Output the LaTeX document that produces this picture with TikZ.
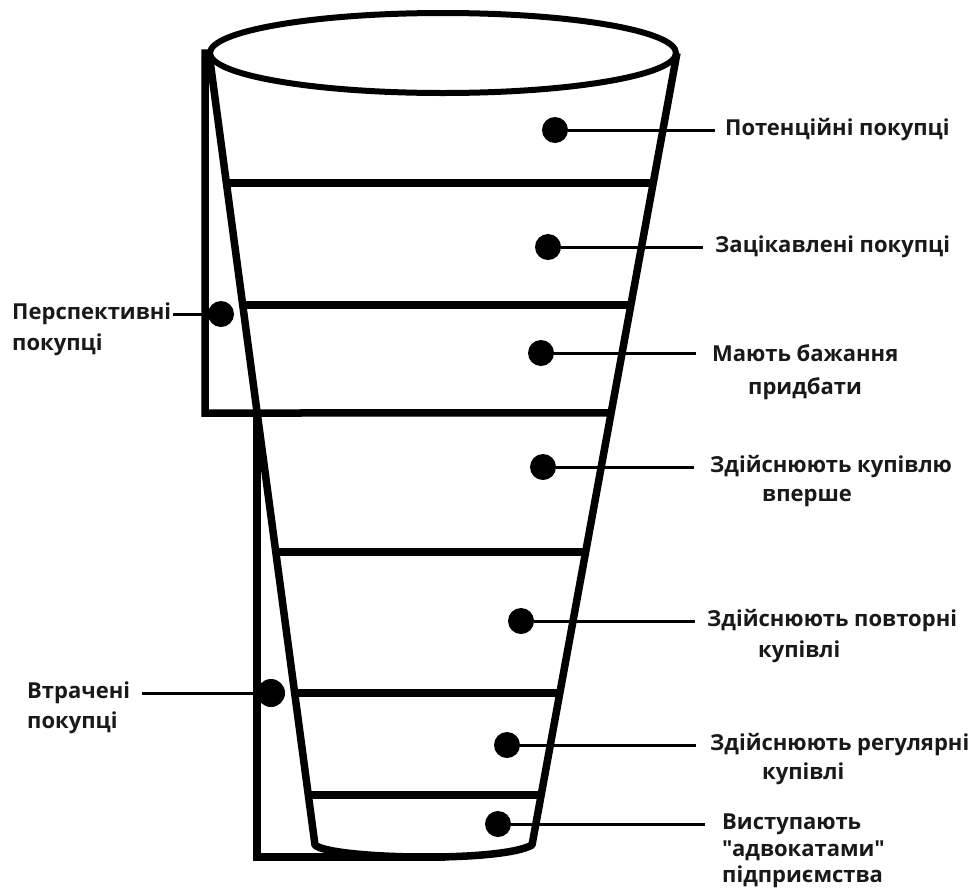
\documentclass[tikz,border=0pt]{standalone}
\usepackage{fontspec}
\setmainfont{Open Sans}[Ligatures=TeXOff]
\usetikzlibrary{calc}
\begin{document}
\begin{tikzpicture}[x=1pt,y=-1pt,
  outline/.style={line width=7.5pt},
  link/.style={line width=3pt},
  dot/.style={circle,fill=black,minimum size=26pt,inner sep=0pt},
  lab/.style={anchor=west,inner sep=0pt,font=\fontsize{22}{26}\selectfont\bfseries,text=black!90}]
\useasboundingbox (0,0) rectangle (974,892);
% funnel corners
\coordinate (TL) at (209,53);
\coordinate (BL) at (315,845);
\coordinate (TR) at (677,53);
\coordinate (BR) at (532,845);
% top ellipse
\draw[line width=6pt] (443,53) ellipse [x radius=233, y radius=40];
% funnel body
\draw[outline,line join=round] (TL) -- (BL) .. controls (330,859) and (500,863) .. (BR) -- (TR);
% dividers
\foreach \t in {0.1641,0.3182,0.6301,0.8081,0.9369}
  \draw[outline] ($(TL)!\t!(BL)$) -- ($(TR)!\t!(BR)$);
% bracket "Перспективні покупці"
\coordinate (ba) at (205,53);
\coordinate (bb) at (205,413);
\draw[outline] (TL) -- (ba) -- (bb) -- ($(TR)!0.4545!(BR)$);
% bracket "Втрачені покупці"
\coordinate (ca) at (257,413);
\coordinate (cb) at (257,857);
\coordinate (cc) at (445,857);
\draw[outline] (ca) -- (cb) -- (cc);
% right labels
\node[dot] (d1) at (555,130) {};
\node[lab] (t1) at (725,130) {Потенційні покупці};
\draw[link] (d1) -- ([xshift=-10pt]t1.west);

\node[dot] (d2) at (548,247) {};
\node[lab] (t2) at (715,247) {Зацікавлені покупці};
\draw[link] (d2) -- ([xshift=-12pt]t2.west);

\node[dot] (d3) at (541,353) {};
\node[lab] (t3) at (712,353) {Мають бажання};
\node[lab] (t3b) at (748,389) {придбати};
\draw[link] (d3) -- ([xshift=-16pt]t3.west);

\node[dot] (d4) at (543,467) {};
\node[lab] (t4) at (710,467) {Здійснюють купівлю};
\node[lab] (t4b) at (762,498) {вперше};
\draw[link] (d4) -- ([xshift=-16pt]t4.west);

\node[dot] (d5) at (521,621) {};
\node[lab] (t5) at (707,621) {Здійснюють повторні};
\node[lab] (t5b) at (758,652) {купівлі};
\draw[link] (d5) -- ([xshift=-12pt]t5.west);

\node[dot] (d6) at (507,745) {};
\node[lab] (t6) at (710,745) {Здійснюють регулярні};
\node[lab] (t6b) at (762,774) {купівлі};
\draw[link] (d6) -- ([xshift=-14pt]t6.west);

\node[dot] (d7) at (498,824) {};
\node[lab] (t7) at (722,824) {Виступають};
\node[lab] (t7b) at (722,851) {"адвокатами"};
\node[lab] (t7c) at (722,877) {підприємства};
\draw[link] (d7) -- ([xshift=-17pt]t7.west);

% left labels
\node[dot] (dp) at (221,314) {};
\node[lab] (tp) at (12,314) {Перспективні};
\node[lab] (tpb) at (12,345) {покупці};
\draw[link] ([xshift=2pt]tp.east) -- (dp);

\node[dot,minimum size=28pt] (dv) at (271,693) {};
\node[lab] (tv) at (27,693) {Втрачені};
\node[lab] (tvb) at (27,723) {покупці};
\draw[link] ([xshift=12pt]tv.east) -- (dv);
\end{tikzpicture}
\end{document}
